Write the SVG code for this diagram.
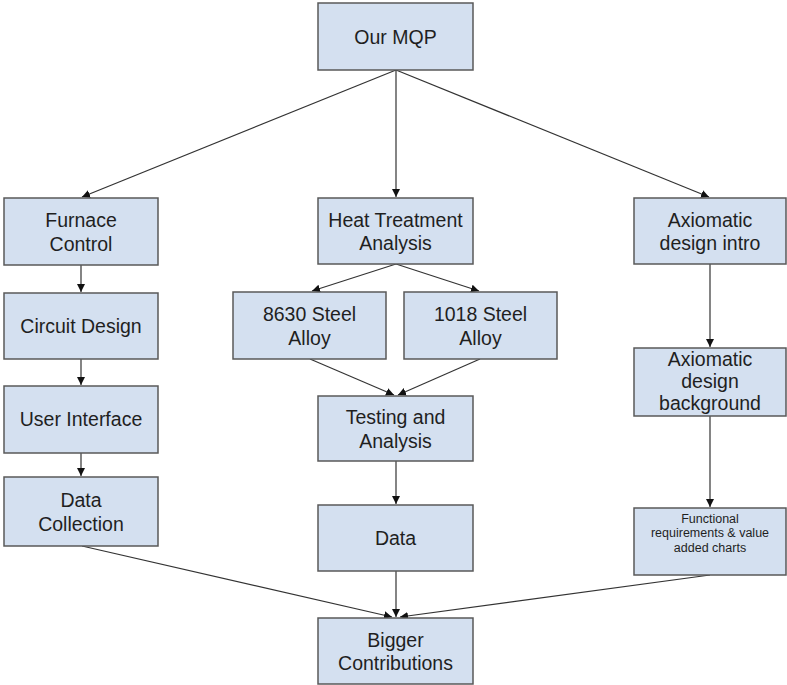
<svg xmlns="http://www.w3.org/2000/svg" width="787" height="685" viewBox="0 0 787 685">
<style>
.box{fill:#d4e0f0;stroke:#595959;stroke-width:1.5}
.t{font-family:"Liberation Sans",Arial,sans-serif;font-size:19.5px;fill:#1f1f1f;text-anchor:middle}
.s{font-family:"Liberation Sans",Arial,sans-serif;font-size:12.5px;fill:#1f1f1f;text-anchor:middle}
.c{stroke:#333;stroke-width:1.2;fill:none;marker-end:url(#ah)}
</style>
<defs>
<marker id="ah" viewBox="0 0 10 10" refX="10" refY="5" markerWidth="8" markerHeight="8" markerUnits="userSpaceOnUse" orient="auto">
<path d="M0,0 L10,5 L0,10 z" fill="#111"/>
</marker>
</defs>
<rect width="787" height="685" fill="#fff"/>
<g id="connectors">
<line class="c" x1="396" y1="70" x2="82" y2="197"/>
<line class="c" x1="396" y1="70" x2="396" y2="197"/>
<line class="c" x1="396" y1="70" x2="709" y2="197"/>
<line class="c" x1="81" y1="265" x2="81" y2="292"/>
<line class="c" x1="81" y1="359" x2="81" y2="385"/>
<line class="c" x1="81" y1="453" x2="81" y2="476"/>
<line class="c" x1="396" y1="264" x2="312" y2="291"/>
<line class="c" x1="396" y1="264" x2="479" y2="291"/>
<line class="c" x1="310" y1="359" x2="394" y2="395"/>
<line class="c" x1="480" y1="359" x2="398" y2="395"/>
<line class="c" x1="396" y1="461" x2="396" y2="504"/>
<line class="c" x1="396" y1="571" x2="396" y2="617"/>
<line class="c" x1="82" y1="546" x2="392" y2="617"/>
<line class="c" x1="710" y1="575" x2="400" y2="617"/>
<line class="c" x1="710" y1="264" x2="710" y2="347"/>
<line class="c" x1="710" y1="416" x2="710" y2="507"/>
</g>
<g id="our-mqp"><rect class="box" x="318" y="3" width="155" height="67"/><text class="t" x="395.5" y="44">Our MQP</text></g>
<g id="furnace-control"><rect class="box" x="4" y="198" width="154" height="67"/><text class="t" x="81" y="227">Furnace</text><text class="t" x="81" y="251">Control</text></g>
<g id="circuit-design"><rect class="box" x="4" y="293" width="154" height="66"/><text class="t" x="81" y="333">Circuit Design</text></g>
<g id="user-interface"><rect class="box" x="4" y="386" width="154" height="67"/><text class="t" x="81" y="426">User Interface</text></g>
<g id="data-collection"><rect class="box" x="4" y="477" width="154" height="69"/><text class="t" x="81" y="507">Data</text><text class="t" x="81" y="531">Collection</text></g>
<g id="heat-treatment"><rect class="box" x="318" y="198" width="155" height="66"/><text class="t" x="395.5" y="227">Heat Treatment</text><text class="t" x="395.5" y="250">Analysis</text></g>
<g id="steel-8630"><rect class="box" x="233" y="292" width="153" height="67"/><text class="t" x="309.5" y="321">8630 Steel</text><text class="t" x="309.5" y="345">Alloy</text></g>
<g id="steel-1018"><rect class="box" x="404" y="292" width="153" height="67"/><text class="t" x="480.5" y="321">1018 Steel</text><text class="t" x="480.5" y="345">Alloy</text></g>
<g id="testing-analysis"><rect class="box" x="318" y="396" width="155" height="65"/><text class="t" x="395.5" y="424">Testing and</text><text class="t" x="395.5" y="448">Analysis</text></g>
<g id="data"><rect class="box" x="318" y="505" width="155" height="66"/><text class="t" x="395.5" y="545">Data</text></g>
<g id="bigger-contributions"><rect class="box" x="318" y="618" width="155" height="66"/><text class="t" x="395.5" y="647">Bigger</text><text class="t" x="395.5" y="670">Contributions</text></g>
<g id="axiomatic-intro"><rect class="box" x="634" y="198" width="152" height="66"/><text class="t" x="710" y="227">Axiomatic</text><text class="t" x="710" y="250">design intro</text></g>
<g id="axiomatic-background"><rect class="box" x="634" y="348" width="152" height="68"/><text class="t" x="710" y="366">Axiomatic</text><text class="t" x="710" y="388">design</text><text class="t" x="710" y="410">background</text></g>
<g id="functional-requirements"><rect class="box" x="634" y="508" width="152" height="67"/><text class="s" x="710" y="523">Functional</text><text class="s" x="710" y="537">requirements &amp; value</text><text class="s" x="710" y="552">added charts</text></g>
</svg>
